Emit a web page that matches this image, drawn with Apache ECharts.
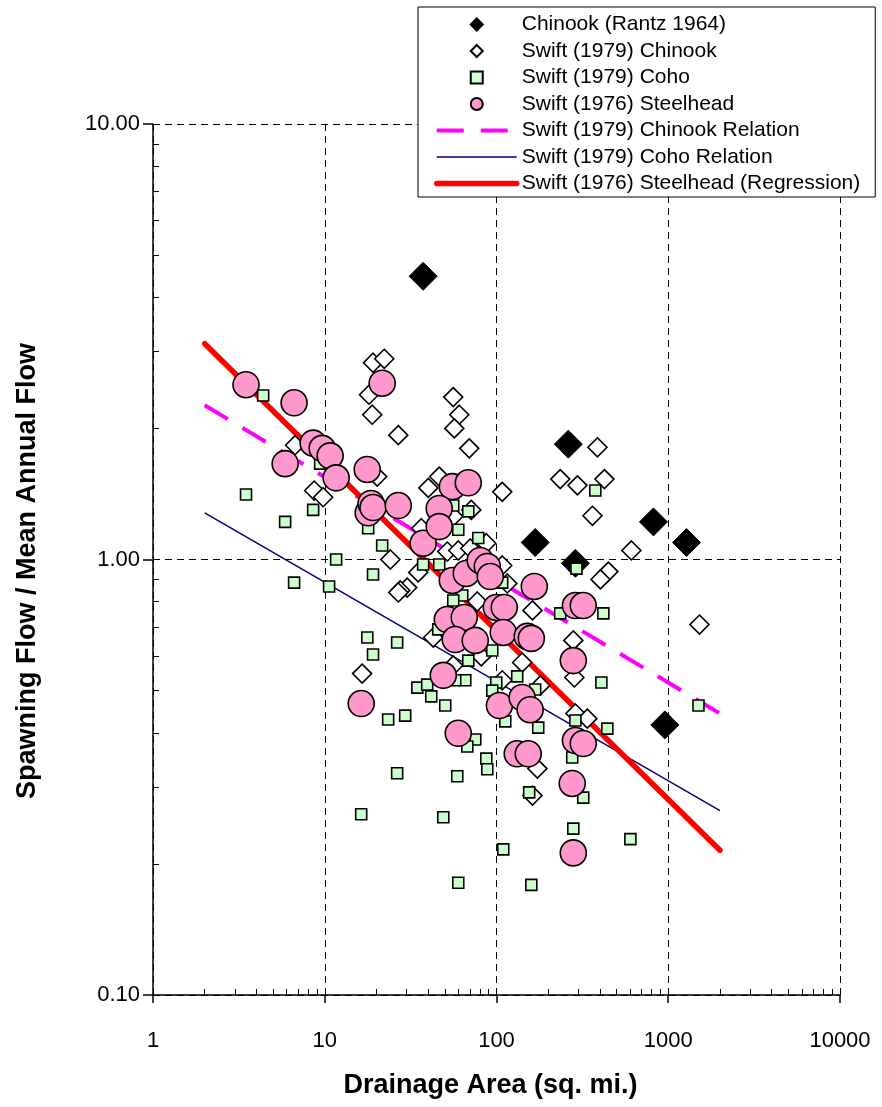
<!DOCTYPE html>
<html>
<head>
<meta charset="utf-8">
<script src="https://cdn.jsdelivr.net/npm/echarts@6/dist/echarts.min.js"></script>
<style>html,body{margin:0;padding:0;background:#fff;}#c{width:882px;height:1107px;}</style>
</head>
<body>
<div id="c"></div>
<script>
// ---------- data ----------
const rantzChinook = [[37.4,4.47],[262,1.84],[168,1.094],[288,0.98],[820,1.22],[1277,1.094],[955,0.417]];
const swiftChinook = [[19.1,2.83],[22.2,2.89],[18.1,2.39],[18.9,2.15],[26.8,1.93],[6.72,1.83],[8.68,1.44],[9.79,1.39],[20.2,1.55],[24.1,1.00],[56.0,2.36],[60.7,2.15],[56.8,2.00],[69.4,1.80],[40.1,1.46],[46.4,1.55],[108,1.43],[71.3,1.30],[36.5,1.18],[51.7,1.043],[59.9,1.049],[70.4,1.06],[87.2,1.09],[35.0,0.934],[30.2,0.862],[27.5,0.849],[108,0.969],[115.6,0.881],[235,1.53],[387,1.81],[296,1.48],[425,1.53],[362,1.26],[610,1.049],[448,0.938],[403,0.900],[162,0.764],[280,0.652],[1520,0.709],[284,0.536],[288,0.443],[338,0.431],[180,0.514],[173,0.331],[162,0.287],[26.8,0.840],[16.5,0.547],[77.3,0.801],[42.8,0.662],[81.5,0.599],[56.0,0.571],[141,0.580],[108,0.528],[56.0,1.255]];
const swiftCoho = [[4.38,2.38],[3.48,1.41],[5.88,1.22],[8.56,1.30],[9.40,1.66],[17.9,1.18],[21.6,1.077],[11.65,1.00],[19.1,0.924],[6.63,0.885],[10.6,0.867],[17.7,0.662],[19.1,0.605],[26.4,0.645],[23.4,0.429],[26.4,0.323],[16.3,0.260],[37.4,0.974],[46.4,0.974],[56.0,1.33],[68.5,1.29],[59.9,1.17],[78.3,1.12],[108,0.885],[63.2,0.827],[56.0,0.805],[45.8,0.691],[94.5,0.618],[68.5,0.586],[132,0.539],[99.7,0.522],[94.5,0.500],[168,0.503],[65.8,0.528],[57.5,0.528],[34.6,0.508],[39.5,0.516],[41.7,0.485],[50.3,0.462],[29.4,0.438],[112.5,0.425],[175,0.411],[75.2,0.386],[67.6,0.372],[87.2,0.349],[88.4,0.330],[59.1,0.318],[155,0.292],[49.0,0.256],[109.5,0.216],[59.9,0.181],[159.5,0.179],[235,0.752],[419,0.752],[292,0.953],[376,1.44],[408,0.522],[442,0.409],[288,0.427],[276,0.351],[320,0.284],[280,0.241],[602,0.228],[1500,0.462]];
const swiftSteelhead = [[3.48,2.52],[6.63,2.29],[5.88,1.66],[8.56,1.85],[9.66,1.80],[10.75,1.73],[11.65,1.54],[17.67,1.61],[21.6,2.54],[17.9,1.28],[18.6,1.345],[19.1,1.316],[26.8,1.33],[37.4,1.09],[55.3,1.47],[68.5,1.50],[46.4,1.31],[46.4,1.19],[16.3,0.467],[55.3,0.895],[66.7,0.929],[80.4,0.995],[88.4,0.964],[92.0,0.914],[166,0.867],[99.7,0.776],[111,0.776],[51.7,0.728],[64.9,0.736],[57.5,0.655],[75.2,0.652],[109.5,0.680],[151,0.666],[159.5,0.659],[288,0.784],[320,0.784],[280,0.586],[49.0,0.542],[104,0.462],[141,0.482],[157,0.452],[59.9,0.399],[132,0.358],[153,0.358],[288,0.384],[320,0.378],[276,0.306],[280,0.212]];
const relX = [2, 2000];
const chinookRelation = [2.26, 0.443];
const cohoRelation = [1.28, 0.265];
const steelheadRegression = [3.13, 0.215];
const xTicks = [1, 10, 100, 1000, 10000];
const yTicks = [0.1, 1, 10];

const names = ['Chinook (Rantz 1964)','Swift (1979) Chinook','Swift (1979) Coho','Swift (1976) Steelhead','Swift (1979) Chinook Relation','Swift (1979) Coho Relation','Swift (1976) Steelhead (Regression)'];
const yTitle = 'Spawning Flow / Mean Annual Flow';
const FONT = 'Liberation Sans, Arial, sans-serif';
const pair = (ys) => relX.map((x, i) => [x, ys[i]]);

const DIAMOND = 'path://M0,-10L10,0L0,10L-10,0Z';
const SQUARE = 'path://M0,0H10V10H0Z';
const hidden = {color: 'rgba(0,0,0,0)', borderColor: 'rgba(0,0,0,0)', opacity: 0};
const chart = echarts.init(document.getElementById('c'), null, {renderer: 'canvas'});
const gridLine = {show: true, lineStyle: {color: '#000', width: 1, type: [7, 5]}};
chart.setOption({
  animation: false,
  backgroundColor: '#fff',
  textStyle: {fontFamily: FONT},
  grid: {left: 153, right: 42, top: 124, bottom: 112},
  legend: {
    orient: 'vertical', left: 418, top: 7,
    symbolKeepAspect: true,
    data: [
      {name: names[0], icon: DIAMOND},
      {name: names[1], icon: DIAMOND},
      {name: names[2], icon: SQUARE},
      {name: names[3], icon: 'circle'},
      {name: names[4], itemStyle: hidden, lineStyle: {width: 4, type: [27, 17], color: '#ff00ff'}},
      {name: names[5], itemStyle: hidden, lineStyle: {width: 1.5, color: '#000080'}},
      {name: names[6], itemStyle: hidden, lineStyle: {width: 5.5, color: '#ff0000', cap: 'round'}}
    ],
    itemWidth: 80, itemHeight: 12, itemGap: 5.5,
    padding: [7, 15, 3, 16],
    backgroundColor: '#fff', borderColor: '#000', borderWidth: 1, borderRadius: 0,
    textStyle: {fontSize: 21, color: '#000', fontFamily: FONT},
    selectedMode: false, z: 20
  },
  graphic: [{
    type: 'text', x: 28, y: 571, rotation: Math.PI / 2, z: 10,
    style: {text: yTitle, font: 'bold 27px ' + FONT, fill: '#000', align: 'center', verticalAlign: 'middle'}
  }],
  xAxis: {
    type: 'log', logBase: 10, min: 1, max: 10000,
    name: 'Drainage Area (sq. mi.)', nameLocation: 'middle', nameGap: 77,
    nameTextStyle: {fontSize: 27, fontWeight: 'bold', color: '#000', fontFamily: FONT, padding: [0, 12, 0, 0]},
    axisLine: {show: true, lineStyle: {color: '#000', width: 1.5}},
    axisTick: {show: true, inside: false, length: 8, lineStyle: {color: '#000', width: 1.5}},
    minorTick: {show: true, splitNumber: 9, length: -6, lineStyle: {color: '#000', width: 1}},
    axisLabel: {fontSize: 22, color: '#000', margin: 35, fontFamily: FONT,
      formatter: (v) => xTicks.includes(v) ? String(v) : ''},
    splitLine: gridLine
  },
  yAxis: {
    type: 'log', logBase: 10, min: 0.1, max: 10,
    axisLine: {show: true, lineStyle: {color: '#000', width: 1.5}},
    axisTick: {show: true, inside: false, length: 10, lineStyle: {color: '#000', width: 1.5}},
    minorTick: {show: true, splitNumber: 9, length: -6, lineStyle: {color: '#000', width: 1}},
    axisLabel: {fontSize: 22, color: '#000', margin: 13, fontFamily: FONT,
      formatter: (v) => yTicks.some(t => Math.abs(t - v) < 1e-9) ? Number(v).toFixed(2) : ''},
    splitLine: gridLine
  },
  series: [
    {name: names[4], type: 'line', data: pair(chinookRelation), symbol: 'none', z: 2,
      lineStyle: {color: '#ff00ff', width: 4, type: [27, 17]}, itemStyle: {color: '#ff00ff'}},
    {name: names[5], type: 'line', data: pair(cohoRelation), symbol: 'none', z: 2,
      lineStyle: {color: '#000080', width: 1.5}, itemStyle: {color: '#000080'}},
    {name: names[6], type: 'line', data: pair(steelheadRegression), symbol: 'none', z: 2,
      lineStyle: {color: '#ff0000', width: 5.5, cap: 'round'}, itemStyle: {color: '#ff0000'}},
    {name: names[0], type: 'scatter', data: rantzChinook, symbol: 'diamond', symbolSize: 28, z: 3,
      itemStyle: {color: '#000', borderColor: '#000', borderWidth: 1, opacity: 1}},
    {name: names[1], type: 'scatter', data: swiftChinook, symbol: 'diamond', symbolSize: 19, z: 3,
      itemStyle: {color: '#fff', borderColor: '#000', borderWidth: 1.6, opacity: 1}},
    {name: names[2], type: 'scatter', data: swiftCoho, symbol: 'rect', symbolSize: 11, z: 4,
      itemStyle: {color: '#ccffcc', borderColor: '#000', borderWidth: 1.6, opacity: 1}},
    {name: names[3], type: 'scatter', data: swiftSteelhead, symbol: 'circle', symbolSize: 26, z: 5,
      itemStyle: {color: '#ff99cc', borderColor: '#000', borderWidth: 1.6, opacity: 1}}
  ]
});
</script>
</body>
</html>
